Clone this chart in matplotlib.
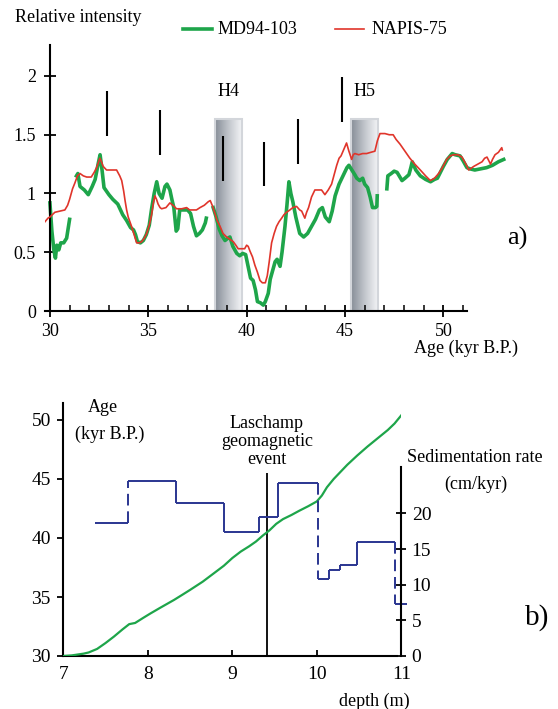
import numpy as np
import matplotlib
matplotlib.use("Agg")
import matplotlib.pyplot as plt
from matplotlib.colors import LinearSegmentedColormap
from matplotlib.lines import Line2D
from matplotlib.patches import Rectangle

plt.rcParams['font.family'] = ['Liberation Serif', 'DejaVu Serif']

# ---- panel a) relative paleointensity ----
# MD94-103 (drawn in separate pieces, gaps in the record)
md_age_1 = [30.0, 30.05, 30.1, 30.2, 30.28, 30.35, 30.45, 30.55, 30.7, 30.85, 31.0]
md_val_1 = [0.92, 0.80, 0.68, 0.52, 0.45, 0.56, 0.52, 0.58, 0.58, 0.62, 0.78]
md_age_2 = [31.35, 31.42, 31.53, 31.75, 31.95, 32.15, 32.3, 32.45, 32.55, 32.65, 32.75,
            33.0, 33.2, 33.45, 33.7, 33.9, 34.1, 34.25, 34.35, 34.45, 34.6, 34.75, 34.9,
            35.05, 35.17, 35.3, 35.43, 35.55, 35.7, 35.85, 35.95, 36.1, 36.2, 36.3, 36.42,
            36.5, 36.6, 36.8, 37.0, 37.15, 37.3, 37.45, 37.6, 37.75, 37.9, 37.95]
md_val_2 = [1.15, 1.17, 1.06, 1.03, 0.99, 1.06, 1.12, 1.25, 1.33, 1.20, 1.05,
            0.99, 0.95, 0.91, 0.82, 0.77, 0.71, 0.69, 0.65, 0.59, 0.58, 0.60, 0.65,
            0.73, 0.87, 1.00, 1.10, 1.00, 0.96, 1.06, 1.08, 1.03, 0.95, 0.88, 0.68,
            0.70, 0.86, 0.86, 0.86, 0.83, 0.72, 0.64, 0.66, 0.69, 0.75, 0.79]
md_age_3 = [38.3, 38.45, 38.6, 38.75, 38.9, 39.05, 39.15, 39.3, 39.5, 39.65, 39.8, 39.95,
            40.1, 40.2, 40.33, 40.45, 40.55, 40.7, 40.85, 40.95, 41.1, 41.2, 41.3, 41.45,
            41.55, 41.7, 41.8, 41.95, 42.05, 42.15, 42.25, 42.35, 42.5, 42.7, 42.9, 43.1,
            43.3, 43.5, 43.7, 43.85, 44.0, 44.2, 44.35, 44.5, 44.7, 44.9, 45.1, 45.2,
            45.35, 45.5, 45.6, 45.75, 45.9, 46.0, 46.15, 46.28, 46.4, 46.55, 46.62, 46.64]
md_val_3 = [0.88, 0.80, 0.70, 0.64, 0.60, 0.62, 0.63, 0.55, 0.49, 0.47, 0.49, 0.48,
            0.36, 0.28, 0.26, 0.18, 0.08, 0.07, 0.05, 0.08, 0.15, 0.27, 0.33, 0.42,
            0.44, 0.38, 0.50, 0.72, 0.90, 1.10, 1.00, 0.93, 0.80, 0.66, 0.63, 0.66,
            0.72, 0.78, 0.86, 0.88, 0.80, 0.76, 0.85, 0.98, 1.08, 1.15, 1.22, 1.24,
            1.20, 1.16, 1.13, 1.11, 1.13, 1.08, 1.05, 0.97, 0.88, 0.88, 0.89, 0.98]
md_age_4 = [47.13, 47.18, 47.35, 47.5, 47.65, 47.9, 48.05, 48.25, 48.35, 48.42, 48.6,
            48.83, 49.1, 49.35, 49.55, 49.7, 49.85, 50.0, 50.2, 50.45, 50.6, 50.85, 51.0,
            51.2, 51.35, 51.6, 51.9, 52.2, 52.5, 52.8, 53.07]
md_val_4 = [1.04, 1.15, 1.17, 1.19, 1.18, 1.11, 1.13, 1.16, 1.22, 1.27, 1.20,
            1.15, 1.12, 1.10, 1.12, 1.13, 1.18, 1.23, 1.29, 1.34, 1.33, 1.32, 1.28,
            1.22, 1.21, 1.20, 1.21, 1.22, 1.24, 1.27, 1.29]

# NAPIS-75
np_age = [29.75, 29.9, 30.0, 30.25, 30.5, 30.76, 30.9, 31.0, 31.15, 31.27, 31.4, 31.53,
          31.7, 31.87, 32.1, 32.25, 32.37, 32.54, 32.62, 32.71, 32.88, 33.1, 33.39, 33.55,
          33.65, 33.75, 33.82, 33.9, 33.98, 34.15, 34.3, 34.41, 34.55, 34.66, 34.8, 34.92,
          35.05, 35.17, 35.26, 35.34, 35.42, 35.5, 35.6, 35.68, 35.9, 36.1, 36.25, 36.44,
          36.7, 36.95, 37.1, 37.29, 37.45, 37.63, 37.85, 38.05, 38.15, 38.25, 38.39, 38.5,
          38.65, 38.8, 38.98, 39.15, 39.32, 39.45, 39.57, 39.75, 39.9, 40.0, 40.08, 40.17,
          40.3, 40.42, 40.55, 40.68, 40.8, 40.95, 41.05, 41.15, 41.27, 41.4, 41.52, 41.65,
          41.78, 41.9, 42.03, 42.2, 42.35, 42.54, 42.7, 42.8, 42.96, 43.05, 43.15, 43.3,
          43.47, 43.65, 43.81, 43.98, 44.15, 44.32, 44.45, 44.58, 44.7, 44.8, 44.9, 45.0,
          45.08, 45.2, 45.34, 45.42, 45.5, 45.7, 45.9, 46.1, 46.3, 46.52, 46.65, 46.78,
          47.03, 47.25, 47.45, 47.6, 47.8, 48.05, 48.3, 48.55, 48.83, 49.1, 49.34, 49.55,
          49.76, 49.95, 50.17, 50.35, 50.52, 50.75, 50.95, 51.15, 51.29, 51.54, 51.75, 51.97,
          52.1, 52.22, 52.4, 52.5, 52.63, 52.8, 52.97, 53.0]
np_val = [0.76, 0.79, 0.80, 0.84, 0.85, 0.86, 0.90, 0.95, 1.04, 1.09, 1.15, 1.17,
          1.15, 1.14, 1.14, 1.18, 1.22, 1.30, 1.27, 1.23, 1.20, 1.20, 1.20, 1.15,
          1.11, 1.02, 0.94, 0.86, 0.80, 0.72, 0.64, 0.58, 0.58, 0.59, 0.62, 0.66,
          0.73, 0.82, 0.92, 0.98, 0.95, 0.91, 0.88, 0.87, 0.88, 0.92, 0.90, 0.87,
          0.87, 0.88, 0.86, 0.86, 0.86, 0.88, 0.90, 0.93, 0.94, 0.90, 0.83, 0.77,
          0.72, 0.66, 0.63, 0.61, 0.59, 0.56, 0.53, 0.53, 0.53, 0.56, 0.55, 0.51,
          0.46, 0.39, 0.33, 0.26, 0.24, 0.24, 0.30, 0.42, 0.58, 0.66, 0.72, 0.76,
          0.79, 0.82, 0.84, 0.86, 0.88, 0.89, 0.86, 0.85, 0.79, 0.84, 0.88, 0.97,
          1.03, 1.03, 1.03, 0.99, 1.03, 1.08, 1.16, 1.24, 1.30, 1.32, 1.36, 1.40,
          1.43, 1.36, 1.29, 1.33, 1.34, 1.33, 1.34, 1.34, 1.35, 1.36, 1.45, 1.51,
          1.51, 1.50, 1.50, 1.46, 1.42, 1.36, 1.30, 1.25, 1.20, 1.15, 1.11, 1.13,
          1.17, 1.22, 1.29, 1.32, 1.33, 1.33, 1.31, 1.25, 1.20, 1.23, 1.25, 1.27,
          1.30, 1.31, 1.25, 1.29, 1.33, 1.35, 1.39, 1.37]

# Heinrich events (age start, age end) and event markers
heinrich_names = ['H4', 'H5']
heinrich_start = [38.4, 45.3]
heinrich_end = [39.78, 46.68]
marker_age = [32.9, 35.6, 38.8, 40.88, 42.61, 44.85]
marker_low = [1.49, 1.33, 1.11, 1.06, 1.25, 1.61]
marker_high = [1.87, 1.71, 1.49, 1.44, 1.63, 1.99]

age_major = [30, 35, 40, 45, 50]
age_minor = [31, 32, 33, 34, 36, 37, 38, 39, 41, 42, 43, 44, 46, 47, 48, 49, 51]
intensity_ticks = [0, 0.5, 1, 1.5, 2]
intensity_labels = ['0', '0.5', '1', '1.5', '2']

# ---- panel b) age model and sedimentation rate ----
depth = [7.0, 7.1, 7.24, 7.3, 7.4, 7.5, 7.6, 7.7, 7.78, 7.85, 7.95, 8.03, 8.15, 8.31,
         8.4, 8.5, 8.65, 8.78, 8.9, 9.0, 9.1, 9.2, 9.28, 9.36, 9.44, 9.52, 9.6, 9.7,
         9.79, 9.9, 10.0, 10.06, 10.12, 10.2, 10.36, 10.48, 10.6, 10.72, 10.84, 10.92, 11.0]
age = [30.0, 30.05, 30.2, 30.3, 30.6, 31.1, 31.65, 32.25, 32.7, 32.8, 33.25, 33.6, 34.1,
       34.75, 35.15, 35.6, 36.3, 37.0, 37.65, 38.3, 38.85, 39.3, 39.7, 40.2, 40.65, 41.2,
       41.6, 41.95, 42.3, 42.7, 43.1, 43.6, 44.3, 45.0, 46.2, 47.0, 47.75, 48.45, 49.15,
       49.7, 50.4]

sed_edges = [7.37, 7.76, 8.33, 8.90, 9.32, 9.54, 10.01, 10.14, 10.28, 10.47, 10.92, 11.07]
sed_rate = [18.6, 24.6, 21.5, 17.4, 19.5, 24.3, 10.8, 12.1, 12.8, 16.0, 7.3]
sed_dashed_step = [True, False, False, False, False, True, False, False, False, True]

laschamp_depth = 9.41
laschamp_top = 45.5

GREEN = '#1ea54a'
RED = '#e0352b'
BLUE = '#2a3590'

W, H = 558, 709
fig = plt.figure(figsize=(W / 100, H / 100), dpi=100)


def box(x0, y0, x1, y1):
    return [x0 / W, 1 - y1 / H, (x1 - x0) / W, (y1 - y0) / H]


def ftext(px, py, s, **kw):
    fig.text(px / W, 1 - py / H, s, **kw)


# ---------------- panel a ----------------
ax = fig.add_axes(box(45, 45, 520, 311))
ax.set_xlim(29.75, 29.75 + 475 / 19.67)
ax.set_ylim(0, 266 / 117.5)

band_cmap = LinearSegmentedColormap.from_list('band', ['#878e98', '#c3c7cd', '#f6f7f9'])
grad = np.linspace(0, 1, 64).reshape(1, -1)
for name, a0, a1 in zip(heinrich_names, heinrich_start, heinrich_end):
    ax.imshow(grad, cmap=band_cmap, extent=[a0, a1, 0, 1.63], aspect='auto', zorder=1)
    ax.add_patch(Rectangle((a0, 0), a1 - a0, 1.63, fill=False, ec='#d3d6db', lw=1.5, zorder=1.5))
    ax.text((a0 + a1) / 2, 1.87, name, ha='center', va='center', fontsize=13)

ax.vlines(marker_age, marker_low, marker_high, color='black', lw=1.5, zorder=4)

ax.plot(np_age, np_val, color=RED, lw=1.2, zorder=3)
for xs, ys in [(md_age_1, md_val_1), (md_age_2, md_val_2), (md_age_3, md_val_3), (md_age_4, md_val_4)]:
    ax.plot(xs, ys, color=GREEN, lw=2.6, zorder=2.5, solid_joinstyle='round')

for s in ['top', 'right']:
    ax.spines[s].set_visible(False)
ax.spines['left'].set_position(('data', 30))
ax.spines['bottom'].set_bounds(29.75, 51.2)
for s in ['left', 'bottom']:
    ax.spines[s].set_linewidth(1.5)
ax.set_xticks(age_major)
ax.set_xticks(age_minor, minor=True)
ax.set_yticks(intensity_ticks)
ax.set_yticklabels(intensity_labels)
ax.tick_params(direction='inout', length=8, width=1.3, labelsize=13)
ax.tick_params(axis='y', pad=6)
ax.tick_params(axis='x', pad=5)
ax.tick_params(axis='x', which='minor', direction='in', length=4, width=1.1)

ftext(15, 18, 'Relative intensity', fontsize=13, va='center', ha='left')
fig.add_artist(Line2D([183 / W, 212 / W], [1 - 29 / H] * 2, color=GREEN, lw=2.6))
ftext(218, 29, 'MD94-103', fontsize=13, va='center', ha='left')
fig.add_artist(Line2D([335 / W, 364 / W], [1 - 29 / H] * 2, color=RED, lw=1.2))
ftext(372, 29, 'NAPIS-75', fontsize=13, va='center', ha='left')
ftext(466, 348, 'Age (kyr B.P.)', fontsize=13, va='center', ha='center')
ftext(517, 238, 'a)', fontsize=19, va='center', ha='center')

# ---------------- panel b ----------------
bx = fig.add_axes(box(63.3, 403, 401.3, 656))
bx.set_xlim(7, 11)
bx.set_ylim(30, 30 + 253 / 11.8)
bx.plot(depth, age, color=GREEN, lw=1.6, zorder=3)
bx.vlines(laschamp_depth, 30, laschamp_top, color='black', lw=1.3, zorder=2)

for s in ['top', 'right']:
    bx.spines[s].set_visible(False)
bx.spines['bottom'].set_bounds(7, 10.95)
for s in ['left', 'bottom']:
    bx.spines[s].set_linewidth(1.5)
bx.set_xticks([7, 8, 9, 10, 11])
bx.set_yticks([30, 35, 40, 45, 50])
bx.tick_params(axis='y', direction='out', length=4, width=1.3, labelsize=14, pad=5)
bx.tick_params(axis='x', direction='in', length=4, width=1.3, labelsize=14, pad=7)

sx = bx.twinx()
sx.set_ylim(0, 253 / 7.13)
for i, r in enumerate(sed_rate):
    sx.hlines(r, sed_edges[i], sed_edges[i + 1], color=BLUE, lw=1.4, clip_on=False)
for i in range(len(sed_rate) - 1):
    ls = (0, (6, 3)) if sed_dashed_step[i] else '-'
    sx.vlines(sed_edges[i + 1], sed_rate[i], sed_rate[i + 1], color=BLUE, lw=1.4,
              linestyles=ls, clip_on=False)

for s in ['top', 'left', 'bottom']:
    sx.spines[s].set_visible(False)
sx.spines['right'].set_bounds(0, 26.5)
sx.spines['right'].set_linewidth(1.5)
sx.set_yticks([0, 5, 10, 15, 20])
sx.tick_params(axis='y', direction='inout', length=7, width=1.3, labelsize=14, pad=4)

ftext(103, 407, 'Age', fontsize=13, ha='center', va='center')
ftext(110, 434, '(kyr B.P.)', fontsize=13, ha='center', va='center')
ftext(267, 423, 'Laschamp', fontsize=13, ha='center', va='center')
ftext(267, 441, 'geomagnetic', fontsize=13, ha='center', va='center')
ftext(267, 459, 'event', fontsize=13, ha='center', va='center')
ftext(475, 457, 'Sedimentation rate', fontsize=13, ha='center', va='center')
ftext(476, 484, '(cm/kyr)', fontsize=13, ha='center', va='center')
ftext(374, 701, 'depth (m)', fontsize=13, ha='center', va='center')
ftext(537, 618, 'b)', fontsize=21, ha='center', va='center')

fig.savefig('out.png', dpi=100)
